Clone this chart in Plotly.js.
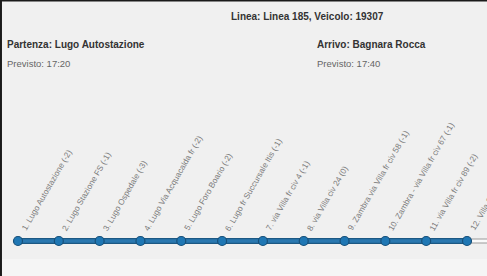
<!DOCTYPE html>
<html><head><meta charset="utf-8">
<script src="https://cdn.plot.ly/plotly-3.0.1.min.js"></script>
<style>html,body{margin:0;padding:0;background:#f0f0f0;}#chart{width:487px;height:276px;}</style>
</head><body><div id="chart"></div>
<script>
// Data
const stopIndex = [1,2,3,4,5,6,7,8,9,10,11,12];
const stopNames = ["Lugo Autostazione","Lugo Stazione FS","Lugo Ospedale","Lugo Via Acquacalda fr","Lugo Foro Boario","Lugo fr Succursale Itis","via Villa fr civ 4","via Villa civ 24","Zambra via Villa fr civ 58","Zambra - via Villa fr civ 67","via Villa fr civ 89","Villa S. Martino"];
const delays = ["-2","-1","-3","-2","-2","-1","-1","0","-1","-1","-2","-2"];
const futureIndex = [12, 13];
const lineName = "Linea 185";
const vehicle = "19307";
const departure = "Lugo Autostazione";
const departureTime = "17:20";
const arrival = "Bagnara Rocca";
const arrivalTime = "17:40";

const base = stopIndex.map(() => 0);
const labels = stopIndex.map((n, i) => n + ". " + stopNames[i] + " (" + delays[i] + ")");

const traces = [
  {x: futureIndex, y: futureIndex.map(() => 0), mode: "lines", line: {color: "#9a9a9a", width: 5}, hoverinfo: "skip"},
  {x: futureIndex, y: futureIndex.map(() => 0), mode: "lines", line: {color: "#fafafa", width: 3}, hoverinfo: "skip"},
  {x: stopIndex, y: base, mode: "lines", line: {color: "#1c5883", width: 6}, hoverinfo: "skip"},
  {x: stopIndex, y: base, mode: "lines+markers", line: {color: "#2a78b0", width: 3.5},
   marker: {size: 9, color: "#1f77b4", line: {color: "#17507a", width: 1.2}}, text: labels, hoverinfo: "text"}
];

const annotations = stopIndex.map((n, i) => ({
  x: n, y: 0, xref: "x", yref: "y", text: labels[i], showarrow: false,
  textangle: -60, xanchor: "left", yanchor: "bottom", yshift: 6, xshift: -1,
  font: {family: "Liberation Sans, Arial, sans-serif", size: 8.2, color: "#7a7a7a"}
}));

const hdr = (text, px, py, opts) => Object.assign({
  x: px / 487, y: 1 - py / 276, xref: "paper", yref: "paper", text: text, showarrow: false,
  xanchor: "left", yanchor: "middle",
  font: {family: "Liberation Sans, Arial, sans-serif", size: 10, color: "#333"}
}, opts || {});

annotations.push(hdr("<b>Linea: " + lineName + ", Veicolo: " + vehicle + "</b>", 229, 16));
annotations.push(hdr("<b>Partenza: " + departure + "</b>", 5, 44));
annotations.push(hdr("Previsto: " + departureTime, 5, 63, {font: {family: "Liberation Sans, Arial, sans-serif", size: 9.5, color: "#666"}}));
annotations.push(hdr("<b>Arrivo: " + arrival + "</b>", 315, 44));
annotations.push(hdr("Previsto: " + arrivalTime, 315, 63, {font: {family: "Liberation Sans, Arial, sans-serif", size: 9.5, color: "#666"}}));

const layout = {
  width: 487, height: 276,
  margin: {l: 0, r: 0, t: 0, b: 0},
  paper_bgcolor: "#f0f0f0", plot_bgcolor: "rgba(0,0,0,0)",
  showlegend: false,
  xaxis: {range: [0.559, 12.49], visible: false, fixedrange: true},
  yaxis: {range: [-0.1268, 0.8732], visible: false, fixedrange: true},
  annotations: annotations,
  shapes: [
    {type: "rect", xref: "paper", yref: "paper", x0: 0, x1: 1, y0: 0, y1: 17/276, fillcolor: "#f5f5f5", line: {width: 0}, layer: "below"},
    {type: "line", xref: "paper", yref: "paper", x0: 0.002, x1: 0.002, y0: 0, y1: 1, line: {color: "#1a1a1a", width: 2}},
    {type: "line", xref: "paper", yref: "paper", x0: 0, x1: 1, y0: 0.998, y1: 0.998, line: {color: "#1a1a1a", width: 2}}
  ]
};

Plotly.newPlot("chart", traces, layout, {displayModeBar: false, staticPlot: true});
</script>
</body></html>
